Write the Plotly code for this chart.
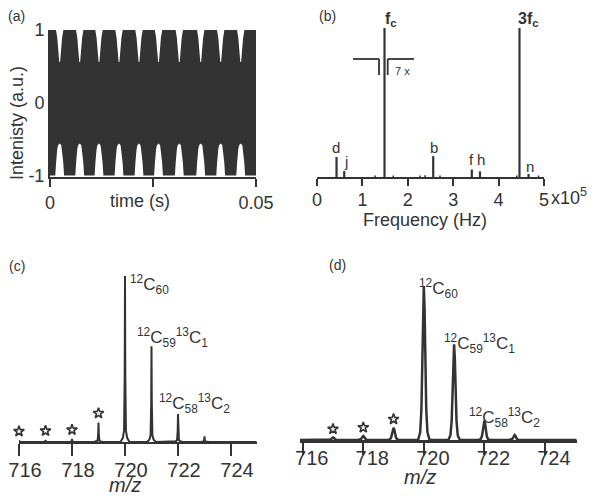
import plotly.graph_objects as go

OFF = 8  # page body margin of the browser
W, H = 601 - OFF, 504 - OFF
def px(x): return (x - OFF) / W
def py(y): return 1 - (y - OFF) / H

INK = '#333333'
FONT = 'Liberation Sans, Arial, sans-serif'

# ---------------- (a) time-domain transient ----------------
dip_times = [0.00235, 0.00721, 0.01189, 0.01675, 0.02160, 0.02634, 0.03138, 0.03658, 0.04143, 0.04629]
upper_dip_values = [0.56, 0.56, 0.56, 0.56, 0.56, 0.56, 0.56, 0.56, 0.56, 0.56]
lower_dip_values = [-0.56, -0.56, -0.56, -0.56, -0.56, -0.56, -0.56, -0.56, -0.56, -0.56]
signal_end = 0.0505
a_xtick_vals = [0, 0.025, 0.05]
a_xtick_text = ['0', '', '0.05']
a_ytick_vals = [-1, 0, 1]
a_ytick_text = ['-1', '0', '1']

# ---------------- (b) frequency spectrum ----------------
b_freq = [0.43e5, 0.60e5, 1.487e5, 2.56e5, 3.41e5, 3.59e5, 4.46e5, 4.66e5]
b_int = [13.4, 4.0, 100, 14.0, 5.0, 3.8, 100, 2.0]
b_small_freq = [1.28e5, 1.68e5, 2.27e5, 2.38e5, 2.71e5, 4.40e5, 4.88e5]
b_small_int = [1.0, 1.0, 1.0, 1.2, 1.0, 1.0, 1.0]
b_labels = ['d', 'j', 'b', 'f', 'h', 'n']
b_tick_vals = [0, 1e5, 2e5, 3e5, 4e5, 5e5]
b_tick_text = ['0', '1', '2', '3', '4', '5']

# ---------------- (c) mass spectrum ----------------
c_mz = [716, 717, 718, 719, 720, 721, 722, 723]
c_int = [0.9, 1.2, 1.8, 11.8, 100, 57.6, 16.9, 3.4]
c_star_mz = [716, 717, 718, 719]

# ---------------- (d) mass spectrum ----------------
d_mz = [717, 718, 719, 720, 721, 722, 723]
d_int = [1.6, 2.6, 8.0, 100, 62.1, 12.5, 3.2]
d_star_mz = [717, 718, 719]

mz_ticks = [716, 718, 720, 722, 724]
iso_labels = ['<sup>12</sup>C<sub>60</sub>',
              '<sup>12</sup>C<sub>59</sub><sup>13</sup>C<sub>1</sub>',
              '<sup>12</sup>C<sub>58</sub><sup>13</sup>C<sub>2</sub>']

fig = go.Figure()

# ---- (a) envelope polygon ----
S = 0.05 / 206.0  # seconds per pixel (shape scale only)
up_prof = [(-3.7, 0.0), (-2.4, 0.25), (-1.6, 0.5), (-1.0, 0.75), (-0.4, 1.0),
           (0.4, 1.0), (1.0, 0.75), (1.6, 0.5), (2.4, 0.25), (3.7, 0.0)]
lo_prof = [(-4.4, 0.0), (-3.6, 0.4), (-3.0, 0.65), (-2.4, 0.83), (-1.6, 0.95), (0.0, 1.0),
           (1.6, 0.95), (2.4, 0.83), (3.0, 0.65), (3.6, 0.4), (4.4, 0.0)]
xs, ys = [0.0], [1.0]
for t, d in zip(dip_times, upper_dip_values):
    for off, f in up_prof:
        xs.append(t + off * S); ys.append(1.0 + f * (d - 1.0))
xs += [signal_end, signal_end]; ys += [1.0, -1.0]
for t, d in reversed(list(zip(dip_times, lower_dip_values))):
    for off, f in reversed(lo_prof):
        xs.append(t + off * S); ys.append(-1.0 + f * (d + 1.0))
xs.append(0.0); ys.append(-1.0)
fig.add_trace(go.Scatter(x=xs, y=ys, fill='toself', fillcolor=INK, mode='lines',
                         line=dict(width=0, color=INK), xaxis='x', yaxis='y', hoverinfo='skip'))

# ---- (b) sticks ----
def sticks(fx, fy):
    X, Y = [], []
    for f, h in zip(fx, fy):
        X += [f, f, None]; Y += [0, h, None]
    return X, Y
X, Y = sticks(b_freq, b_int)
fig.add_trace(go.Scatter(x=X, y=Y, mode='lines', line=dict(color=INK, width=2.2),
                         xaxis='x2', yaxis='y2', hoverinfo='skip'))
X, Y = sticks(b_small_freq, b_small_int)
fig.add_trace(go.Scatter(x=X, y=Y, mode='lines', line=dict(color=INK, width=1.5),
                         xaxis='x2', yaxis='y2', hoverinfo='skip'))

# ---- (c), (d) spectra ----
c_prof = [(-0.17, 0.0), (-0.08, 0.025), (-0.035, 0.07), (-0.012, 0.4), (0, 1.0),
          (0.012, 0.4), (0.035, 0.07), (0.08, 0.025), (0.17, 0.0)]
d_prof = [(-0.19, 0.0), (-0.12, 0.05), (-0.08, 0.2), (-0.05, 0.5), (-0.025, 0.85), (0, 1.0),
          (0.025, 0.85), (0.05, 0.5), (0.08, 0.2), (0.12, 0.05), (0.19, 0.0)]
def spectrum(mz, inten, prof, lo, hi):
    X, Y = [lo], [0]
    for m, h in zip(mz, inten):
        for off, f in prof:
            X.append(m + off); Y.append(f * h)
    X.append(hi); Y.append(0)
    return X, Y
X, Y = spectrum(c_mz, c_int, c_prof, 716, 724.97)
fig.add_trace(go.Scatter(x=X, y=Y, mode='lines', line=dict(color=INK, width=2),
                         xaxis='x3', yaxis='y3', hoverinfo='skip'))
X, Y = spectrum(d_mz, d_int, d_prof, 715.91, 725.05)
fig.add_trace(go.Scatter(x=X, y=Y, mode='lines', line=dict(color=INK, width=2.5),
                         xaxis='x4', yaxis='y4', hoverinfo='skip'))

star_off = 5.5
cs = dict(zip(c_mz, c_int)); ds = dict(zip(d_mz, d_int))
fig.add_trace(go.Scatter(x=c_star_mz, y=[cs[m] + star_off for m in c_star_mz], mode='markers',
                         marker=dict(symbol='star-open', size=8, color=INK, line=dict(width=1.6, color=INK)),
                         xaxis='x3', yaxis='y3', cliponaxis=False, hoverinfo='skip'))
fig.add_trace(go.Scatter(x=d_star_mz, y=[ds[m] + star_off for m in d_star_mz], mode='markers',
                         marker=dict(symbol='star-open', size=8, color=INK, line=dict(width=1.6, color=INK)),
                         xaxis='x4', yaxis='y4', cliponaxis=False, hoverinfo='skip'))

axis_common = dict(showline=True, linecolor=INK, showgrid=False, zeroline=False, automargin=False,
                   tickcolor=INK, ticks='outside', tickfont=dict(family=FONT, size=18, color=INK))

fig.update_layout(
    width=W, height=H, margin=dict(l=0, r=0, t=0, b=0, autoexpand=False),
    paper_bgcolor='white', plot_bgcolor='white', showlegend=False,
    font=dict(family=FONT, color=INK),
    xaxis=dict(axis_common, domain=[px(50), px(256)], range=[0, 0.05], anchor='y',
               linewidth=2, ticklen=8, tickwidth=2, tickmode='array',
               tickvals=a_xtick_vals, ticktext=a_xtick_text),
    yaxis=dict(axis_common, domain=[py(177), py(30)], range=[-1.02, 1.0], anchor='x',
               linewidth=2, ticks='', tickmode='array', tickvals=a_ytick_vals, ticktext=a_ytick_text),
    xaxis2=dict(axis_common, domain=[px(317), px(544)], range=[0, 5e5], anchor='y2',
                linewidth=2, ticklen=7, tickwidth=2, tickmode='array',
                tickvals=b_tick_vals, ticktext=b_tick_text, ticklabelstandoff=-2),
    yaxis2=dict(domain=[py(177), py(20)], range=[0, 105.4], anchor='x2', visible=False, automargin=False),
    xaxis3=dict(axis_common, domain=[px(19), px(256.7)], range=[716, 724.97], anchor='y3',
                linewidth=2, ticklen=12, tickwidth=2, tickmode='array', tickvals=mz_ticks,
                tickfont=dict(family=FONT, size=20, color=INK), ticklabelshift=6, ticklabelstandoff=-3),
    yaxis3=dict(domain=[py(442), py(270)], range=[0, 103.6], anchor='x3', visible=False, automargin=False),
    xaxis4=dict(axis_common, domain=[px(300), px(576.7)], range=[715.91, 725.05], anchor='y4',
                linewidth=3, ticklen=12, tickwidth=2, tickmode='array', tickvals=mz_ticks,
                tickfont=dict(family=FONT, size=20, color=INK), ticklabelshift=9, ticklabelstandoff=-14),
    yaxis4=dict(domain=[py(440), py(275)], range=[0, 107.1], anchor='x4', visible=False, automargin=False),
)

# ---- break marker (7x) in (b) ----
for (x0, y0, x1, y1) in [(353, 59, 379, 59), (379, 59, 379, 75), (387.7, 59, 387.7, 75), (387.7, 59, 414, 59)]:
    fig.add_shape(type='line', xref='paper', yref='paper', x0=px(x0), y0=py(y0), x1=px(x1), y1=py(y1),
                  line=dict(color=INK, width=1.8))

def ann(text, x, y, size=16, xanchor='center', yanchor='middle', angle=0, **kw):
    fig.add_annotation(text=text, x=px(x), y=py(y), xref='paper', yref='paper', showarrow=False,
                       xanchor=xanchor, yanchor=yanchor, textangle=angle,
                       font=dict(family=FONT, size=size, color=INK), **kw)

# panel letters
ann('(a)', 16, 16, 14)
ann('(b)', 327, 16, 14)
ann('(c)', 17, 266, 14)
ann('(d)', 337, 265, 14)

# (a) titles
ann('Intenisty (a.u.)', 17, 123, 18, angle=-90)
ann('time (s)', 140, 201, 18)

# (b) labels
ann('<b>f<sub>c</sub></b>', 391, 19, 16)
ann('<b>3f<sub>c</sub></b>', 528, 19, 16)
ann('7 x', 402.5, 70.7, 11)
b_lab_pos = [(336, 147), (346, 161), (434, 147), (471, 159), (481, 159), (530, 166)]
for lab, (lx, ly) in zip(b_labels, b_lab_pos):
    ann(lab, lx, ly, 15)
ann('x10<sup>5</sup>', 549, 196, 18, xanchor='left')
ann('Frequency (Hz)', 425, 220, 18)

# (c), (d) labels
ann('<i>m/z</i>', 125, 485, 20)
ann('<i>m/z</i>', 420, 477, 20)
for lab, (lx, ly) in zip(iso_labels, [(128, 284), (135, 337), (157, 403)]):
    ann(lab, lx, ly, 17, xanchor='left')
for lab, (lx, ly) in zip(iso_labels, [(417, 288), (442, 343), (467, 417)]):
    ann(lab, lx, ly, 17, xanchor='left')

fig.write_html('out.html')
